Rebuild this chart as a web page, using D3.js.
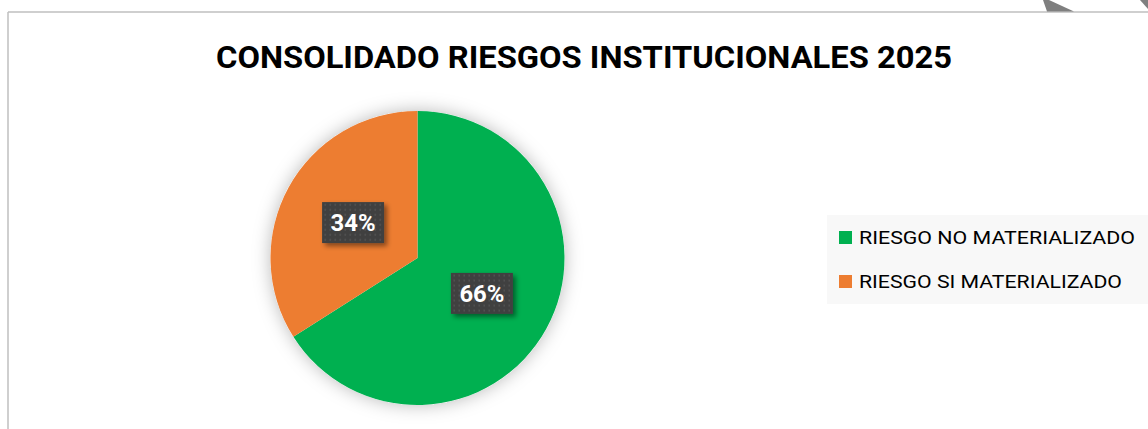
<!DOCTYPE html>
<html>
<head>
<meta charset="utf-8">
<script src="https://cdn.jsdelivr.net/npm/d3@7"></script>
<style>
  html, body { margin: 0; padding: 0; background: #fff; }
  svg { display: block; }
</style>
</head>
<body>
<div id="chart"></div>
<script>
// chart data
var title = "CONSOLIDADO RIESGOS INSTITUCIONALES 2025";
var categories = ["RIESGO NO MATERIALIZADO", "RIESGO SI MATERIALIZADO"];
var values = [66, 34];
var colors = ["#00B050", "#ED7D31"];

var width = 1148, height = 429;

var svg = d3.select("#chart").append("svg")
    .attr("width", width)
    .attr("height", height);

var defs = svg.append("defs");

/* soft glow behind the pie */
var glow = defs.append("filter").attr("id", "glow")
    .attr("x", "-30%").attr("y", "-30%").attr("width", "160%").attr("height", "160%");
glow.append("feDropShadow")
    .attr("dx", 0).attr("dy", 0)
    .attr("stdDeviation", 9)
    .attr("flood-color", "#000")
    .attr("flood-opacity", 0.28);

/* shadow under the data labels */
var boxShadow = defs.append("filter").attr("id", "boxShadow")
    .attr("x", "-30%").attr("y", "-30%").attr("width", "160%").attr("height", "160%");
boxShadow.append("feDropShadow")
    .attr("dx", 3).attr("dy", 3)
    .attr("stdDeviation", 2.5)
    .attr("flood-color", "#000")
    .attr("flood-opacity", 0.45);

/* dotted texture of the label boxes */
var dots = defs.append("pattern").attr("id", "dots")
    .attr("patternUnits", "userSpaceOnUse")
    .attr("width", 5).attr("height", 5);
dots.append("rect").attr("width", 5).attr("height", 5).attr("fill", "#404040");
dots.append("rect").attr("x", 1.5).attr("y", 1.5).attr("width", 1.5).attr("height", 1.5).attr("fill", "#575757");

// frame of the chart area (only top and left edges are visible)
svg.append("line")
    .attr("x1", 8).attr("y1", 12).attr("x2", width).attr("y2", 12)
    .attr("stroke", "#bfbfbf").attr("stroke-width", 1.5);
svg.append("line")
    .attr("x1", 8).attr("y1", 12).attr("x2", 8).attr("y2", height)
    .attr("stroke", "#bfbfbf").attr("stroke-width", 1.5);

// grey corner shapes sticking out above the frame
svg.append("polygon")
    .attr("points", "1043,0 1049,0 1074,11.5 1047,11.5")
    .attr("fill", "#7f7f7f");
svg.append("polygon")
    .attr("points", "1140,0 1148,0 1148,9")
    .attr("fill", "#7f7f7f");

// title
var titleText = svg.append("text")
    .attr("x", 584)
    .attr("y", 68)
    .attr("text-anchor", "middle")
    .style("font-family", "Roboto, 'Open Sans', sans-serif")
    .style("font-weight", "bold")
    .style("font-size", "32px")
    .attr("fill", "#000")
    .text(title);
titleText.attr("textLength", 736).attr("lengthAdjust", "spacingAndGlyphs");

// pie
var cx = 417.5, cy = 258, radius = 147;

var pie = d3.pie().sort(null).value(function(d) { return d; });
var arcs = pie(values);

var arc = d3.arc().innerRadius(0).outerRadius(radius);

var g = svg.append("g").attr("transform", "translate(" + cx + "," + cy + ")");

g.append("circle")
    .attr("r", radius)
    .attr("fill", "#fff")
    .attr("filter", "url(#glow)");

g.selectAll(".slice")
    .data(arcs)
    .enter().append("path")
    .attr("class", "slice")
    .attr("d", arc)
    .attr("fill", function(d, i) { return colors[i]; });

// data labels
var total = d3.sum(values);
var boxW = 62, boxH = 41;

var label = g.selectAll(".label")
    .data(arcs)
    .enter().append("g")
    .attr("class", "label")
    .attr("transform", function(d) {
        var c = arc.centroid(d);
        return "translate(" + c[0] + "," + c[1] + ")";
    });

label.append("rect")
    .attr("x", -boxW / 2).attr("y", -boxH / 2)
    .attr("width", boxW).attr("height", boxH)
    .attr("fill", "url(#dots)")
    .attr("filter", "url(#boxShadow)");

label.append("text")
    .attr("text-anchor", "middle")
    .attr("y", 8.5)
    .style("font-family", "Roboto, 'Open Sans', sans-serif")
    .style("font-weight", "bold")
    .style("font-size", "23px")
    .attr("fill", "#fff")
    .text(function(d) { return Math.round(d.value / total * 100) + "%"; })
    .attr("textLength", 45)
    .attr("lengthAdjust", "spacingAndGlyphs");

// legend
var legend = svg.append("g");
legend.append("rect")
    .attr("x", 827).attr("y", 215)
    .attr("width", width - 827).attr("height", 89)
    .attr("fill", "#f8f8f8");

var legendY = d3.scalePoint().domain(categories).range([244, 288]);
var legendWidths = [276, 263];

var item = legend.selectAll(".item")
    .data(categories)
    .enter().append("g")
    .attr("class", "item")
    .attr("transform", function(d) { return "translate(839," + legendY(d) + ")"; });

item.append("rect")
    .attr("x", 0).attr("y", -13)
    .attr("width", 13).attr("height", 13)
    .attr("fill", function(d, i) { return colors[i]; });

item.append("text")
    .attr("x", 20)
    .attr("y", 0)
    .style("font-family", "Roboto, 'Open Sans', sans-serif")
    .style("font-size", "19px")
    .attr("fill", "#000")
    .text(function(d) { return d; })
    .attr("textLength", function(d, i) { return legendWidths[i]; })
    .attr("lengthAdjust", "spacingAndGlyphs");
</script>
</body>
</html>
